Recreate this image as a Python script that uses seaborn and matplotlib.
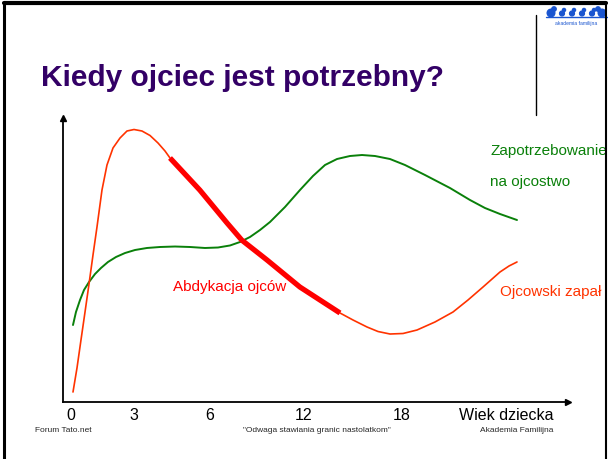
import numpy as np
import pandas as pd
import matplotlib
matplotlib.use("Agg")
import matplotlib.pyplot as plt
from matplotlib.lines import Line2D
import seaborn as sns

# values, in axis percent (x: 0-100 along the age axis, y: 0-100 up)
red_x = [1.98, 2.77, 3.56, 4.36, 5.15, 5.94, 6.73, 7.72, 8.71, 9.90, 11.29, 12.67,
         14.06, 15.64, 17.23, 18.81, 20.20, 21.19]
red_y = [3.52, 11.97, 21.83, 31.69, 41.55, 51.76, 61.62, 74.65, 83.45, 89.44, 92.96, 95.42,
         95.95, 95.42, 93.84, 91.20, 88.38, 85.92]
thick_x = [21.19, 27.1, 32.5, 35.4, 40.4, 46.9, 54.85]
thick_y = [85.92, 74.6, 63.0, 57.0, 50.0, 40.5, 31.34]
tail_x = [54.85, 57.43, 60.20, 62.38, 64.75, 67.33, 70.10, 73.66, 77.23, 80.20, 83.17,
          86.53, 88.32, 89.90]
tail_y = [31.34, 28.87, 26.41, 24.82, 23.94, 24.12, 25.35, 28.17, 31.69, 35.92, 40.49,
          45.77, 47.89, 49.30]

green_x = [1.98, 2.57, 3.37, 4.16, 5.15, 6.34, 7.52, 8.91, 10.50, 12.28, 14.26, 16.63,
           19.21, 22.18, 25.15, 28.12, 30.69, 33.07, 35.05, 37.03, 39.01, 40.99, 43.96,
           46.93, 49.50, 51.88, 54.26, 56.83, 59.21, 61.78, 64.75, 67.72, 71.68, 76.63,
           80.59, 83.56, 86.53, 89.90]
green_y = [27.11, 31.69, 35.92, 39.44, 42.25, 45.07, 47.18, 49.30, 51.06, 52.46, 53.52, 54.23,
           54.58, 54.75, 54.58, 54.23, 54.40, 55.11, 56.34, 58.10, 60.56, 63.38, 68.66,
           74.65, 79.58, 83.45, 85.56, 86.62, 86.97, 86.62, 85.56, 83.45, 79.93, 75.35,
           71.13, 68.31, 66.20, 64.08]

tick_pos = [1.6, 14.1, 29.1, 47.7, 67.1, 87.7]
tick_labels = ["0", "3", "6", "12", "18", "Wiek dziecka"]

sns.set_theme(style="white")
plt.rcParams['font.family'] = ['Liberation Sans', 'DejaVu Sans']

W, H = 609, 459
fig = plt.figure(figsize=(W / 100, H / 100), dpi=100)
fig.patch.set_facecolor("white")

# slide frame
fig.add_artist(Line2D([4 / W, 4 / W], [0, 1 - 3 / H], color="black", lw=2.2))
fig.add_artist(Line2D([4 / W, 606 / W], [1 - 3 / H, 1 - 3 / H], color="black", lw=3))
fig.add_artist(Line2D([606 / W, 606 / W], [0, 1 - 3 / H], color="black", lw=1.5))
fig.add_artist(Line2D([536 / W, 536 / W], [1 - 15 / H, 1 - 115 / H], color="black", lw=1))

# title
fig.text(41 / W, 1 - 86 / H, "Kiedy ojciec jest potrzebny?", color="#330066",
         fontsize=21.5, fontweight="bold", va="baseline", ha="left")

# logo
lax = fig.add_axes([545 / W, 1 - 27 / H, 63 / W, 22 / H])
lax.set_xlim(0, 63)
lax.set_ylim(0, 22)
lax.axis("off")
lax.scatter([6, 17, 27, 37, 47, 57], [14, 13.5, 13.5, 13.5, 13.5, 14], s=[30, 12, 12, 12, 12, 30],
            marker="o", color="#1a55d0")
lax.scatter([9, 19, 29, 39, 49, 53], [18, 17, 17, 17, 17, 18], s=[10, 5, 5, 5, 5, 10],
            marker="o", color="#1a55d0")
lax.plot([1, 62], [10, 10], color="#1a55d0", lw=1)
lax.text(31.5, 4, "akademia familijna", color="#1a55d0", fontsize=3.6, ha="center", va="center")

# main chart
ax = fig.add_axes([63 / W, (H - 402) / H, 505 / W, 284 / H])
ax.set_xlim(0, 100)
ax.set_ylim(0, 100)
ax.set_facecolor("none")
for s in ["top", "right"]:
    ax.spines[s].set_visible(False)
for s in ["left", "bottom"]:
    ax.spines[s].set_color("black")
    ax.spines[s].set_linewidth(1.3)
ax.plot(1, 0, ">", color="black", ms=4, transform=ax.get_yaxis_transform(), clip_on=False)
ax.plot(0, 1, "^", color="black", ms=4, transform=ax.get_xaxis_transform(), clip_on=False)

green = pd.DataFrame({"x": green_x, "y": green_y})
red = pd.DataFrame({"x": red_x, "y": red_y})
thick = pd.DataFrame({"x": thick_x, "y": thick_y})
tail = pd.DataFrame({"x": tail_x, "y": tail_y})

sns.lineplot(data=green, x="x", y="y", sort=False, estimator=None, color="#0a800a", lw=1.4, ax=ax)
sns.lineplot(data=red, x="x", y="y", sort=False, estimator=None, color="#ff3300", lw=1.2, ax=ax)
sns.lineplot(data=tail, x="x", y="y", sort=False, estimator=None, color="#ff3300", lw=1.2, ax=ax)
sns.lineplot(data=thick, x="x", y="y", sort=False, estimator=None, color="#ff0000", lw=3.8,
             solid_capstyle="butt", ax=ax)

ax.set_xticks(tick_pos)
ax.set_xticklabels(tick_labels, fontsize=11.5, color="black")
ax.set_yticks([])
ax.tick_params(axis="x", length=0, pad=4)
ax.set_xlabel("")
ax.set_ylabel("")

ax.text(84.6, 88.4, "Zapotrzebowanie", color="#0a800a", fontsize=11, va="center", ha="left")
ax.text(84.6, 77.5, "na ojcostwo", color="#0a800a", fontsize=11, va="center", ha="left")
ax.text(86.5, 38.7, "Ojcowski zapał", color="#ff3300", fontsize=11, va="center", ha="left")
ax.text(21.8, 40.5, "Abdykacja ojców", color="#ff0000", fontsize=11, va="center", ha="left")

# footer
fig.text(35 / W, 1 - 430 / H, "Forum Tato.net", fontsize=6, va="center", ha="left")
fig.text(317 / W, 1 - 430 / H, "\"Odwaga stawiania granic nastolatkom\"", fontsize=6,
         va="center", ha="center")
fig.text(553 / W, 1 - 430 / H, "Akademia Familijna", fontsize=6, va="center", ha="right")

fig.savefig("out.png", dpi=100)
